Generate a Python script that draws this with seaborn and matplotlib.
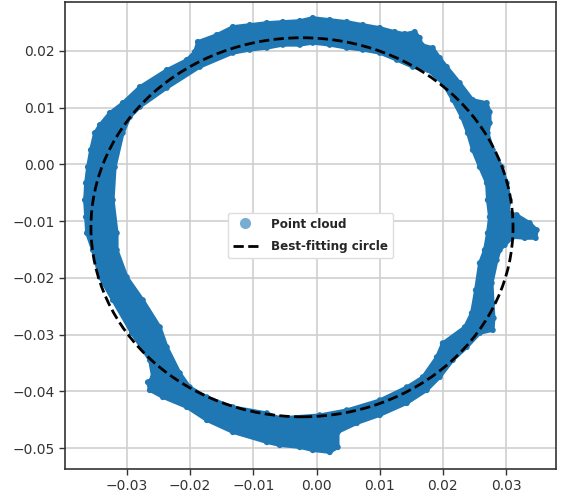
import matplotlib
matplotlib.use("Agg")
import matplotlib.pyplot as plt
import seaborn as sns
import pandas as pd
from matplotlib.patches import Circle, PathPatch
from matplotlib.path import Path
from matplotlib.lines import Line2D
from matplotlib import font_manager

# ---- data ----
# outer edge of the point-cloud band (clockwise)
outer_x = [-0.03271, -0.03065, -0.02796, -0.02369, -0.02052, -0.01926, -0.01878, -0.01578,
           -0.01324, -0.01055, -0.00786, -0.00533, -0.00264, -0.00059, 0.00210, 0.00479,
           0.00733, 0.01002, 0.01239, 0.01397, 0.01555, 0.01634, 0.01666, 0.01840,
           0.01951, 0.02062, 0.02267, 0.02473, 0.02695, 0.02742, 0.02742, 0.02710,
           0.02790, 0.02932, 0.03011, 0.03059, 0.03027, 0.03169, 0.03375, 0.03486,
           0.03470, 0.03296, 0.03106, 0.02979, 0.02900, 0.02853, 0.02774, 0.02790,
           0.02805, 0.02790, 0.02584, 0.02378, 0.02157, 0.01951, 0.01745, 0.01429,
           0.01002, 0.00638, 0.00337, 0.00337, 0.00210, -0.00059, -0.00264, -0.00581,
           -0.00786, -0.01324, -0.01736, -0.02052, -0.02432, -0.02638, -0.02669, -0.02590,
           -0.02638, -0.02922, -0.03223, -0.03429, -0.03540, -0.03634, -0.03650, -0.03666,
           -0.03650, -0.03619, -0.03571, -0.03508, -0.03429]
outer_y = [0.00905, 0.01081, 0.01363, 0.01663, 0.01840, 0.01981, 0.02157, 0.02280,
           0.02422, 0.02457, 0.02492, 0.02510, 0.02527, 0.02580, 0.02545, 0.02510,
           0.02457, 0.02404, 0.02333, 0.02298, 0.02333, 0.02228, 0.02104, 0.02051,
           0.01875, 0.01716, 0.01434, 0.01134, 0.01081, 0.00922, 0.00728, 0.00552,
           0.00252, -0.00048, -0.00330, -0.00630, -0.00841, -0.00894, -0.01035, -0.01159,
           -0.01300, -0.01300, -0.01282, -0.01423, -0.01511, -0.01688, -0.02093, -0.02446,
           -0.02711, -0.02922, -0.02975, -0.03222, -0.03451, -0.03751, -0.03981, -0.04210,
           -0.04421, -0.04563, -0.04721, -0.04986, -0.05074, -0.05039, -0.04986, -0.04951,
           -0.04898, -0.04721, -0.04510, -0.04280, -0.04104, -0.03981, -0.03840, -0.03751,
           -0.03451, -0.02975, -0.02393, -0.01988, -0.01511, -0.01212, -0.00929, -0.00630,
           -0.00330, -0.00048, 0.00252, 0.00552, 0.00693]
# inner edge of the point-cloud band (clockwise)
inner_x = [-0.02954, -0.02796, -0.02369, -0.01847, -0.01324, -0.01055, -0.00786, -0.00533,
           -0.00264, -0.00059, 0.00210, 0.00479, 0.00733, 0.01002, 0.01271, 0.01524,
           0.01761, 0.01998, 0.02157, 0.02299, 0.02394, 0.02473, 0.02584, 0.02695,
           0.02710, 0.02742, 0.02710, 0.02663, 0.02584, 0.02521, 0.02457, 0.02347,
           0.01998, 0.01903, 0.01682, 0.01429, 0.01002, 0.00479, 0.00052, -0.00581,
           -0.00786, -0.01324, -0.01736, -0.02005, -0.02163, -0.02369, -0.02479, -0.02748,
           -0.03002, -0.03160, -0.03160, -0.03223, -0.03191, -0.03065]
inner_y = [0.00834, 0.01011, 0.01346, 0.01716, 0.01963, 0.02016, 0.02051, 0.02104,
           0.02104, 0.02139, 0.02104, 0.02051, 0.02016, 0.01963, 0.01840, 0.01716,
           0.01663, 0.01434, 0.01134, 0.00834, 0.00552, 0.00252, -0.00048, -0.00330,
           -0.00630, -0.00929, -0.01212, -0.01511, -0.01741, -0.02217, -0.02623, -0.02870,
           -0.03152, -0.03399, -0.03751, -0.03928, -0.04157, -0.04333, -0.04421, -0.04474,
           -0.04386, -0.04280, -0.04104, -0.03928, -0.03681, -0.03222, -0.02870, -0.02393,
           -0.01988, -0.01511, -0.01212, -0.00630, -0.00048, 0.00552]

circle_center = (-0.0023, -0.0111)
circle_radius = 0.0334

x_ticks = [-0.03, -0.02, -0.01, 0.00, 0.01, 0.02, 0.03]
x_tick_labels = ["\u22120.03", "\u22120.02", "\u22120.01", "0.00", "0.01", "0.02", "0.03"]
y_ticks = [-0.05, -0.04, -0.03, -0.02, -0.01, 0.00, 0.01, 0.02]
y_tick_labels = ["\u22120.05", "\u22120.04", "\u22120.03", "\u22120.02", "\u22120.01", "0.00", "0.01", "0.02"]
legend_labels = ["Point cloud", "Best-fitting circle"]

# ---- styling ----
sns.set_style("whitegrid", {
    "axes.edgecolor": "#333333",
    "grid.color": "#cfcfcf",
    "xtick.bottom": True,
    "ytick.left": True,
    "xtick.color": "#333333",
    "ytick.color": "#333333",
})
plt.rcParams["font.family"] = ["DejaVu Sans"]

blue = "#1f77b4"

fig = plt.figure(figsize=(5.62, 5.03), dpi=100)
ax = fig.add_axes([0.1157, 0.0676, 0.8736, 0.9284])

# band of the point cloud
verts = list(zip(outer_x, outer_y)) + [(outer_x[0], outer_y[0])]
codes = [Path.MOVETO] + [Path.LINETO] * (len(outer_x) - 1) + [Path.CLOSEPOLY]
rin_x = inner_x[::-1]
rin_y = inner_y[::-1]
verts += list(zip(rin_x, rin_y)) + [(rin_x[0], rin_y[0])]
codes += [Path.MOVETO] + [Path.LINETO] * (len(rin_x) - 1) + [Path.CLOSEPOLY]
band = PathPatch(Path(verts, codes), facecolor=blue, edgecolor=blue, lw=2.5,
                 joinstyle="round", zorder=1.5)
ax.add_patch(band)

df = pd.DataFrame({"x": outer_x + inner_x, "y": outer_y + inner_y})
sns.scatterplot(data=df, x="x", y="y", s=18, color=blue, edgecolor="none",
                linewidth=0, ax=ax, legend=False, zorder=2)

circ = Circle(circle_center, circle_radius, fill=False, ls="--", lw=2,
              color="black", zorder=3)
ax.add_patch(circ)

ax.set_xlim(-0.0398, 0.0379)
ax.set_ylim(-0.0537, 0.0286)
ax.set_xticks(x_ticks)
ax.set_xticklabels(x_tick_labels)
ax.set_yticks(y_ticks)
ax.set_yticklabels(y_tick_labels)
ax.tick_params(labelsize=10, length=4, width=1, colors="#333333")
ax.set_xlabel("")
ax.set_ylabel("")
for s in ax.spines.values():
    s.set_linewidth(1.2)
ax.grid(True, lw=1.2)

# condensed bold face for the legend, if one is installed
fp = font_manager.FontProperties(family="DejaVu Sans", weight="bold",
                                 stretch="condensed", size=9.5)
names = {f.name for f in font_manager.fontManager.ttflist}
if "Liberation Sans Narrow" in names:
    fp = font_manager.FontProperties(family="Liberation Sans Narrow", weight="bold", size=10.5)

h1 = Line2D([], [], marker="o", ls="none", color=blue, alpha=0.6,
            markersize=8, markeredgewidth=0)
h2 = Line2D([], [], ls="--", color="black", lw=2)
leg = ax.legend([h1, h2], legend_labels, loc="center", prop=fp,
                frameon=True, framealpha=1, edgecolor="#dddddd",
                handlelength=1.9, handletextpad=1.0, labelspacing=0.7)
leg.set_zorder(5)

fig.savefig("out.png", dpi=100)
